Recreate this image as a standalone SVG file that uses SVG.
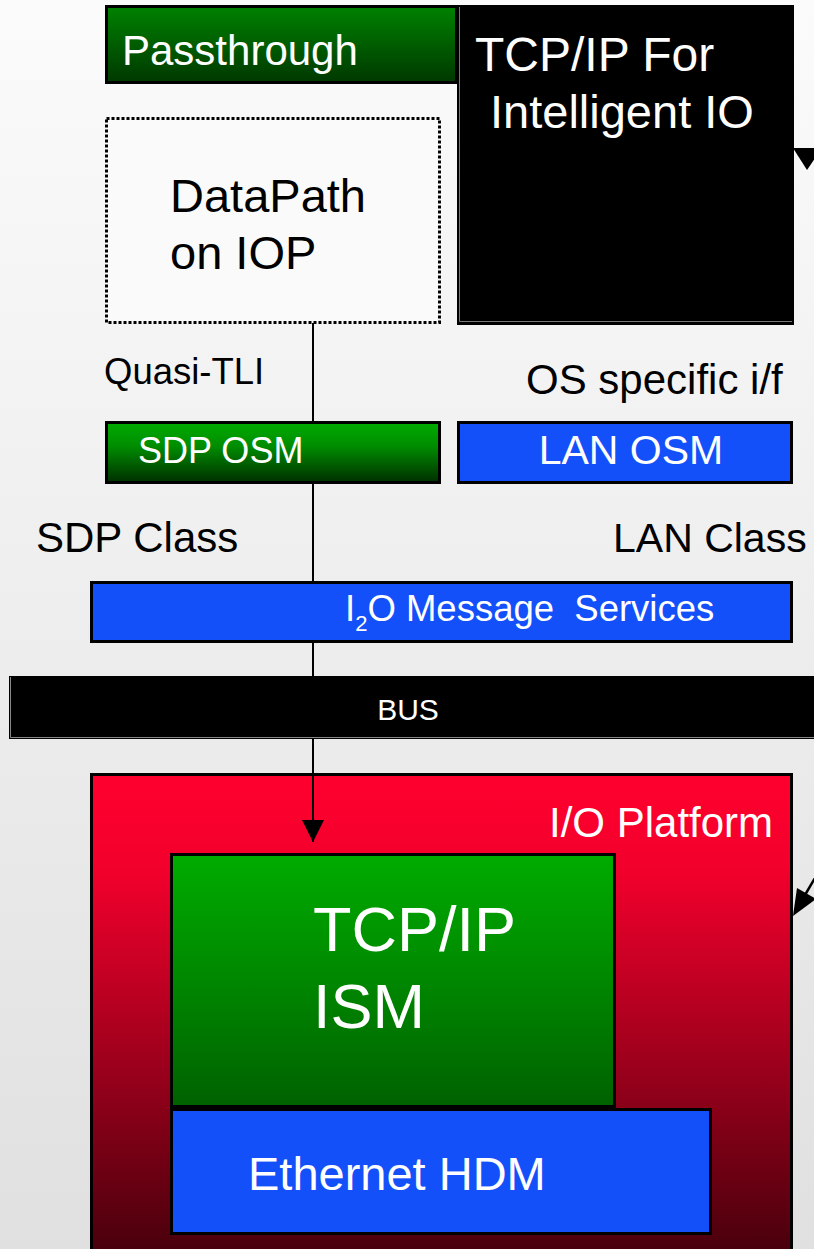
<svg xmlns="http://www.w3.org/2000/svg" width="814" height="1249" viewBox="0 0 814 1249">
<defs>
<linearGradient id="bg" x1="0" y1="0" x2="0" y2="1"><stop offset="0" stop-color="#fbfbfb"/><stop offset="1" stop-color="#e0e0e0"/></linearGradient>
<linearGradient id="gPass" x1="0" y1="0" x2="0" y2="1"><stop offset="0" stop-color="#008200"/><stop offset="1" stop-color="#003800"/></linearGradient>
<linearGradient id="gSdp" x1="0" y1="0" x2="0" y2="1"><stop offset="0" stop-color="#00ac00"/><stop offset="0.4" stop-color="#008c00"/><stop offset="1" stop-color="#002e00"/></linearGradient>
<linearGradient id="gIsm" x1="0" y1="0" x2="0" y2="1"><stop offset="0" stop-color="#00ac00"/><stop offset="1" stop-color="#006200"/></linearGradient>
<linearGradient id="gRed" x1="0" y1="0" x2="0" y2="1"><stop offset="0" stop-color="#ff002e"/><stop offset="0.2" stop-color="#f2002c"/><stop offset="1" stop-color="#48000c"/></linearGradient>
<marker id="ah" markerWidth="22" markerHeight="22" refX="22" refY="11" orient="auto" markerUnits="userSpaceOnUse"><path d="M0,0 L22,11 L0,22 Z" fill="#000"/></marker>
</defs>
<style>
.t{font-family:"Liberation Sans",Arial,sans-serif}
.w{fill:#fff}
.k{fill:#000}
.bx{stroke:#000;stroke-width:3}
.blue{fill:#1450fa}
</style>
<rect x="0" y="0" width="814" height="1249" fill="url(#bg)"/>

<g id="passthrough">
<rect class="bx" x="106.5" y="6.5" width="350" height="76" fill="url(#gPass)"/>
<text class="t w" x="122" y="65" font-size="42">Passthrough</text>
</g>

<g id="tcpip-i2o">
<rect x="457" y="5" width="337" height="320" fill="#000"/>
<path d="M459.5,7 V321.5 H792" fill="none" stroke="#777" stroke-width="1"/>
<text class="t w" x="475" y="71" font-size="48">TCP/IP For</text>
<text class="t w" x="490" y="128" font-size="47">Intelligent IO</text>
</g>

<g id="datapath">
<rect x="106.5" y="118.5" width="333" height="204" fill="#fafafa" stroke="#000" stroke-width="3" stroke-dasharray="3 2"/>
<text class="t k" x="170" y="212" font-size="47">DataPath</text>
<text class="t k" x="170" y="269" font-size="47">on IOP</text>
</g>

<g id="labels">
<text class="t k" x="104" y="384" font-size="36.5">Quasi-TLI</text>
<text class="t k" x="526" y="394" font-size="42">OS specific i/f</text>
<text class="t k" x="36" y="552" font-size="42">SDP Class</text>
<text class="t k" x="613" y="552" font-size="41">LAN Class</text>
</g>

<g id="sdp-osm">
<rect class="bx" x="106.5" y="422.5" width="333" height="60" fill="url(#gSdp)"/>
<text class="t w" x="138" y="463" font-size="36">SDP OSM</text>
</g>

<g id="lan-osm">
<rect class="bx blue" x="458.5" y="422.5" width="333" height="60"/>
<text class="t w" x="631" y="464" font-size="41" text-anchor="middle">LAN OSM</text>
</g>

<g id="i2o-msg">
<rect class="bx blue" x="91.5" y="582.5" width="700" height="59"/>
<text class="t w" x="345" y="621" font-size="36.5" xml:space="preserve">I<tspan font-size="22" dy="10">2</tspan><tspan dy="-10">O Message  Services</tspan></text>
</g>

<g id="bus">
<rect x="9" y="676" width="810" height="63" fill="#000"/>
<path d="M10.5,677 V737.5 H814" fill="none" stroke="#888" stroke-width="1"/>
<text class="t w" x="408" y="720" font-size="30" text-anchor="middle">BUS</text>
</g>

<g id="io-platform">
<rect class="bx" x="91.5" y="774.5" width="700" height="480" fill="url(#gRed)"/>
<text class="t w" x="549" y="837" font-size="42">I/O Platform</text>
</g>

<g id="tcpip-ism">
<rect class="bx" x="171.5" y="854.5" width="443" height="252" fill="url(#gIsm)"/>
<text class="t w" x="313" y="951" font-size="63">TCP/IP</text>
<text class="t w" x="313" y="1028" font-size="63">ISM</text>
</g>

<g id="ethernet-hdm">
<rect class="bx blue" x="171.5" y="1109.5" width="539" height="124"/>
<text class="t w" x="248" y="1190" font-size="47">Ethernet HDM</text>
</g>

<g id="connectors">
<line x1="313" y1="323" x2="313" y2="421" stroke="#000" stroke-width="2"/>
<line x1="313" y1="484" x2="313" y2="581" stroke="#000" stroke-width="2"/>
<line x1="313" y1="643" x2="313" y2="676" stroke="#000" stroke-width="2"/>
<line x1="313" y1="739" x2="313" y2="842" stroke="#000" stroke-width="2" marker-end="url(#ah)"/>
<polygon points="793,148 822,148 807,170" fill="#000"/>
<line x1="822" y1="866" x2="805" y2="895" stroke="#000" stroke-width="2.5"/>
<polygon points="793,916 797,888 816,899" fill="#000"/>
</g>
</svg>
